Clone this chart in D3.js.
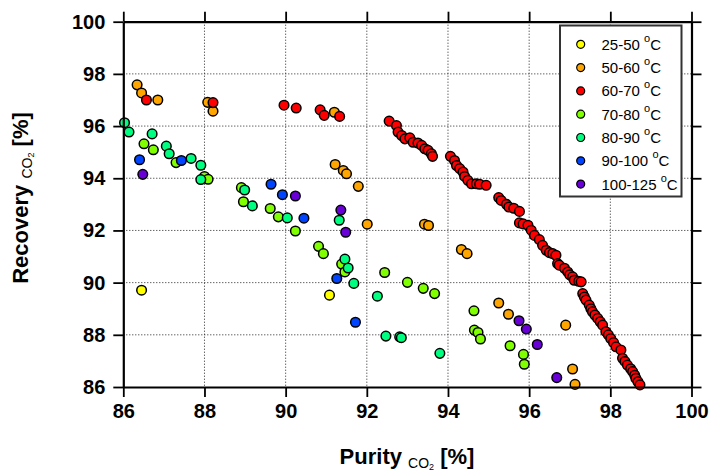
<!DOCTYPE html>
<html>
<head>
<meta charset="utf-8">
<script src="https://cdn.jsdelivr.net/npm/d3@7"></script>
<style>
  body { margin: 0; background: #fff; }
  svg { font-family: "Liberation Sans", Arial, sans-serif; }
</style>
</head>
<body>
<script>
// data: [purity, recovery] per temperature range
let t25_50 = [[86.45,89.71],[91.08,89.52]]
let t50_60 = [[86.34,97.58],[86.45,97.27],[86.85,97.0],[88.08,96.91],[88.21,96.57],[91.20,96.53],
  [91.22,94.53],[91.42,94.30],[91.50,94.17],[91.79,93.69],[92.01,92.24],[93.42,92.24],[93.52,92.19],
  [94.33,91.27],[94.47,91.11],[95.25,89.22],[95.49,88.79],[96.90,88.37],[97.07,86.69],[97.13,86.10]]
let t60_70 = [[86.57,97.0],[88.21,96.90],[89.96,96.80],[90.26,96.69],[90.85,96.62],[90.95,96.41],[91.33,96.37],
  [92.55,96.19],[92.73,96.02],[92.77,95.77],[92.86,95.64],[92.94,95.51],[93.06,95.55],[93.14,95.38],
  [93.26,95.35],[93.35,95.26],[93.43,95.13],[93.51,95.07],[93.59,94.94],[93.62,94.84],
  [94.06,94.84],[94.16,94.68],[94.21,94.49],[94.29,94.37],[94.37,94.24],[94.41,94.07],[94.49,93.92],
  [94.58,93.79],[94.70,93.79],[94.78,93.77],[94.94,93.73],
  [95.25,93.26],[95.31,93.15],[95.44,93.0],[95.50,92.90],[95.62,92.85],[95.76,92.73],[95.76,92.29],
  [95.85,92.25],[95.97,92.20],[96.05,92.01],[96.13,91.81],[96.25,91.65],[96.33,91.43],[96.42,91.24],
  [96.50,91.15],[96.58,91.11],[96.66,91.05],[96.70,90.73],[96.74,90.67],[96.87,90.55],[96.95,90.41],
  [97.0,90.3],[97.07,90.22],[97.11,90.09],[97.22,90.05],[97.28,90.03],[97.32,89.58],[97.36,89.45],
  [97.40,89.33],[97.48,89.14],[97.52,89.0],[97.56,88.88],[97.62,88.76],[97.69,88.63],[97.75,88.5],
  [97.81,88.37],[97.89,88.12],[97.95,88.0],[98.01,87.86],[98.08,87.7],[98.14,87.54],[98.26,87.42],
  [98.30,87.10],[98.36,86.98],[98.42,86.84],[98.50,86.7],[98.55,86.59],[98.60,86.45],[98.63,86.33],
  [98.68,86.2],[98.73,86.08]]
let t70_80 = [[86.51,95.32],[86.74,95.09],[87.30,94.60],[88.0,94.07],[88.09,93.96],[88.91,93.64],
  [88.96,93.10],[89.62,92.84],[89.82,92.52],[90.24,91.98],[90.81,91.39],[90.93,91.11],[91.38,90.71],
  [91.46,90.41],[92.44,90.39],[93.00,90.01],[93.39,89.78],[93.67,89.58],[94.64,88.92],[94.65,88.18],
  [94.74,88.09],[94.80,87.84],[95.53,87.58],[95.86,87.25],[95.88,86.87]]
let t80_90 = [[86.03,96.13],[86.14,95.77],[86.71,95.70],[87.06,95.23],[87.13,94.94],[87.67,94.76],
  [87.91,94.50],[87.91,93.95],[88.99,93.55],[89.18,92.94],[90.04,92.48],[91.32,92.39],[91.46,90.90],
  [91.54,90.56],[91.68,89.97],[92.26,89.48],[92.47,87.95],[92.81,87.92],[92.85,87.89],[93.80,87.29]]
let t90_100 = [[86.40,94.71],[87.43,94.68],[89.64,93.77],[89.92,93.37],[90.45,92.47],[91.26,90.16],[91.72,88.48]]
let t100_125 = [[86.48,94.15],[90.24,93.32],[91.36,92.78],[91.48,91.93],[95.75,88.54],[95.93,88.22],[96.20,87.63],[96.68,86.36]]

let seriesNames = ["25-50", "50-60", "60-70", "70-80", "80-90", "90-100", "100-125"]
let seriesData = [t25_50, t50_60, t60_70, t70_80, t80_90, t90_100, t100_125]
let colors = ["#ffff00", "#ffa500", "#ff0000", "#80ff00", "#00ff80", "#0044ff", "#6a00d8"]
let ticks = [86, 88, 90, 92, 94, 96, 98, 100]

let w = 712, h = 475
let m = {left: 123.3, right: 691.5, top: 21.7, bottom: 387}

let svg = d3.select("body").append("svg")
    .attr("width", w)
    .attr("height", h)

let x = d3.scaleLinear().domain([86, 100]).range([m.left, m.right])
let y = d3.scaleLinear().domain([86, 100]).range([m.bottom, m.top])

// grid
let grid = svg.append("g")
grid.selectAll("line.gx")
    .data(ticks.slice(1, -1))
    .enter().append("line")
    .attr("x1", d=>x(d)).attr("x2", d=>x(d))
    .attr("y1", m.top).attr("y2", m.bottom)
grid.selectAll("line.gy")
    .data(ticks.slice(1, -1))
    .enter().append("line")
    .attr("y1", d=>y(d)).attr("y2", d=>y(d))
    .attr("x1", m.left).attr("x2", m.right)
grid.selectAll("line")
    .attr("stroke", "#222")
    .attr("stroke-width", 1)
    .attr("stroke-dasharray", "1,2")

// points
seriesData.forEach((s, i) => {
    svg.append("g").selectAll("circle")
        .data(s)
        .enter().append("circle")
        .attr("cx", d=>x(d[0]))
        .attr("cy", d=>y(d[1]))
        .attr("r", 4.8)
        .attr("fill", colors[i])
        .attr("stroke", "#000")
        .attr("stroke-width", 1.5)
})

// axes
let styleAxis = g => {
    g.select(".domain").attr("stroke-width", 2.2).attr("stroke", "#000")
    g.selectAll(".tick line").attr("stroke-width", 1.8).attr("stroke", "#000")
    g.selectAll("text").attr("font-size", 20).attr("font-weight", "bold").attr("fill", "#000")
        .attr("font-family", "'Liberation Sans', Arial, sans-serif")
}
svg.append("g")
    .attr("transform", `translate(0,${m.bottom})`)
    .call(d3.axisBottom(x).tickValues(ticks).tickSize(10).tickSizeOuter(0).tickPadding(7))
    .call(styleAxis)
svg.append("g")
    .attr("transform", `translate(${m.left},0)`)
    .call(d3.axisLeft(y).tickValues(ticks).tickSize(10).tickSizeOuter(0).tickPadding(8))
    .call(styleAxis)
svg.append("g")
    .attr("transform", `translate(0,${m.top})`)
    .call(d3.axisTop(x).tickValues(ticks).tickSize(10).tickSizeOuter(0).tickFormat(""))
    .call(styleAxis)
svg.append("g")
    .attr("transform", `translate(${m.right},0)`)
    .call(d3.axisRight(y).tickValues(ticks).tickSize(10).tickSizeOuter(0).tickFormat(""))
    .call(styleAxis)

// axis titles
let xt = svg.append("text")
    .attr("x", 407).attr("y", 464)
    .attr("text-anchor", "middle")
    .attr("font-size", 22).attr("font-weight", "bold")
xt.append("tspan").text("Purity ")
xt.append("tspan").attr("font-size", 14).attr("font-weight", "normal").attr("dy", 4).text("CO")
xt.append("tspan").attr("font-size", 9).attr("font-weight", "normal").attr("dy", 2).text("2")
xt.append("tspan").attr("dy", -6).text(" [%]")

let yt = svg.append("text")
    .attr("transform", "translate(28,198) rotate(-90)")
    .attr("text-anchor", "middle")
    .attr("font-size", 22).attr("font-weight", "bold")
yt.append("tspan").text("Recovery ")
yt.append("tspan").attr("font-size", 14).attr("font-weight", "normal").attr("dy", 4).text("CO")
yt.append("tspan").attr("font-size", 9).attr("font-weight", "normal").attr("dy", 2).text("2")
yt.append("tspan").attr("dy", -6).text(" [%]")

// legend
let legend = svg.append("g")
legend.append("rect")
    .attr("x", 560).attr("y", 25.5)
    .attr("width", 121.5).attr("height", 171)
    .attr("fill", "#fff")
    .attr("stroke", "#333").attr("stroke-width", 2)
let items = legend.selectAll("g.item")
    .data(seriesNames)
    .enter().append("g")
    .attr("transform", (d, i)=>`translate(0,${44.3 + i*23.3})`)
items.append("circle")
    .attr("cx", 580.7).attr("cy", 0).attr("r", 4)
    .attr("fill", (d, i)=>colors[i])
    .attr("stroke", "#000").attr("stroke-width", 1.2)
let lt = items.append("text")
    .attr("x", 601.5).attr("y", 5.5)
    .attr("font-size", 15)
lt.append("tspan").text(d=>d + " ")
lt.append("tspan").attr("font-size", 11).attr("dy", -8).text("o")
lt.append("tspan").attr("dy", 8).text("C")
</script>
</body>
</html>
